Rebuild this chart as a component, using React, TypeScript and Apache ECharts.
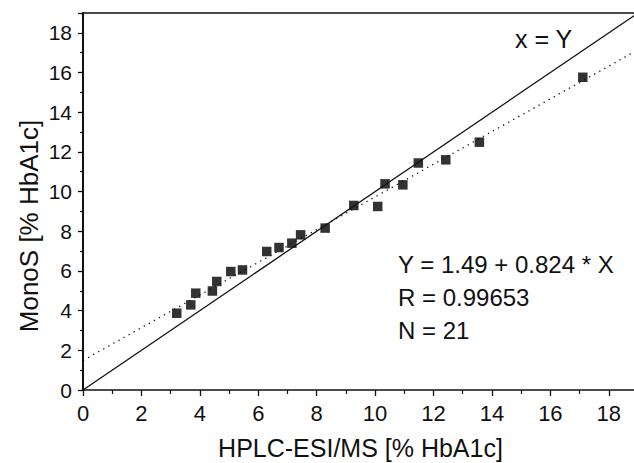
import React, { useEffect, useRef } from "react";
import * as echarts from "echarts";

const hplcValues = [3.21, 3.69, 3.86, 4.43, 4.58, 5.06, 5.46, 6.29, 6.71, 7.15, 7.45, 8.29, 9.27, 10.09, 10.34, 10.95, 11.48, 12.42, 13.57, 17.11];
const monoSValues = [3.87, 4.29, 4.88, 4.99, 5.47, 5.97, 6.05, 6.98, 7.18, 7.40, 7.82, 8.16, 9.30, 9.25, 10.39, 10.34, 11.44, 11.60, 12.49, 15.76];
const fitIntercept = 1.49;
const fitSlope = 0.824;
const axisMin = 0;
const axisMax = 19;
const statLines = ["Y = 1.49 + 0.824 * X", "R = 0.99653", "N = 21"];
const identityLabel = "x = Y";
const xTitle = "HPLC-ESI/MS [% HbA1c]";
const yTitle = "MonoS [% HbA1c]";

const FONT = "'Liberation Sans', Arial, Helvetica, sans-serif";

export default function App() {
  const ref = useRef<HTMLDivElement>(null);

  useEffect(() => {
    if (!ref.current) return;
    const chart = echarts.init(ref.current, undefined, { renderer: "svg" });
    const points = hplcValues.map((x, i) => [x, monoSValues[i]]);
    const identity = [[axisMin, axisMin], [axisMax, axisMax]];
    const fit = [[axisMin, fitIntercept + fitSlope * axisMin], [axisMax, fitIntercept + fitSlope * axisMax]];
    const evenLabel = (v: number) => (Math.round(v) % 2 === 0 && v < axisMax ? String(v) : "");

    chart.setOption({
      animation: false,
      backgroundColor: "#ffffff",
      grid: { left: 83, top: 13, right: -4, bottom: 73, containLabel: false, outerBoundsMode: "none" },
      xAxis: [
        {
          type: "value",
          min: axisMin,
          max: axisMax,
          interval: 2,
          position: "bottom",
          name: xTitle,
          nameLocation: "middle",
          nameGap: 45,
          nameTextStyle: { fontFamily: FONT, fontSize: 25, color: "#111" },
          axisLine: { show: true, onZero: false, lineStyle: { color: "#111", width: 1.6 } },
          axisTick: { show: true, inside: false, length: 6, lineStyle: { color: "#111", width: 1.3 } },
          minorTick: { show: true, splitNumber: 2, length: 4, lineStyle: { color: "#111", width: 1.2 } },
          axisLabel: { fontFamily: FONT, fontSize: 22, color: "#111", margin: 12, formatter: evenLabel },
          splitLine: { show: false },
          minorSplitLine: { show: false },
        },
        {
          type: "value",
          min: axisMin,
          max: axisMax,
          position: "top",
          axisLine: { show: true, onZero: false, lineStyle: { color: "#111", width: 1.6 } },
          axisTick: { show: false },
          axisLabel: { show: false },
          splitLine: { show: false },
        },
      ],
      yAxis: {
        type: "value",
        min: axisMin,
        max: axisMax,
        interval: 2,
        axisLine: { show: true, onZero: false, lineStyle: { color: "#111", width: 2 } },
        axisTick: { show: true, inside: false, length: 5, lineStyle: { color: "#111", width: 1.3 } },
        minorTick: { show: true, splitNumber: 2, length: 3, lineStyle: { color: "#111", width: 1.2 } },
        axisLabel: { fontFamily: FONT, fontSize: 21, color: "#111", margin: 11, formatter: evenLabel },
        splitLine: { show: false },
        minorSplitLine: { show: false },
      },
      series: [
        {
          type: "line",
          data: identity,
          symbol: "none",
          lineStyle: { color: "#111", width: 1.3, type: "solid" },
          silent: true,
        },
        {
          type: "line",
          data: fit,
          symbol: "none",
          lineStyle: { color: "#111", width: 1.3, type: [1.3, 4.5] },
          silent: true,
        },
        {
          type: "scatter",
          data: points,
          symbol: "rect",
          symbolSize: 9.5,
          itemStyle: { color: "#000" },
        },
      ],
      graphic: [
        {
          type: "text",
          x: 29,
          y: 226,
          rotation: Math.PI / 2,
          style: {
            text: yTitle,
            fontFamily: FONT,
            fontSize: 26,
            fill: "#111",
            align: "center",
            verticalAlign: "middle",
          },
        },
        {
          type: "text",
          x: 515,
          y: 39,
          style: {
            text: identityLabel,
            fontFamily: FONT,
            fontSize: 25,
            fill: "#111",
            align: "left",
            verticalAlign: "middle",
          },
        },
        ...statLines.map((t, i) => ({
          type: "text",
          x: 398,
          y: 264 + i * 33,
          style: {
            text: t,
            fontFamily: FONT,
            fontSize: 24,
            fill: "#111",
            align: "left",
            verticalAlign: "middle",
          },
        })),
      ],
    });

    return () => chart.dispose();
  }, []);

  return (
    <div
      ref={ref}
      style={{ position: "fixed", left: 0, top: 0, width: 634, height: 463, background: "#fff" }}
    />
  );
}
